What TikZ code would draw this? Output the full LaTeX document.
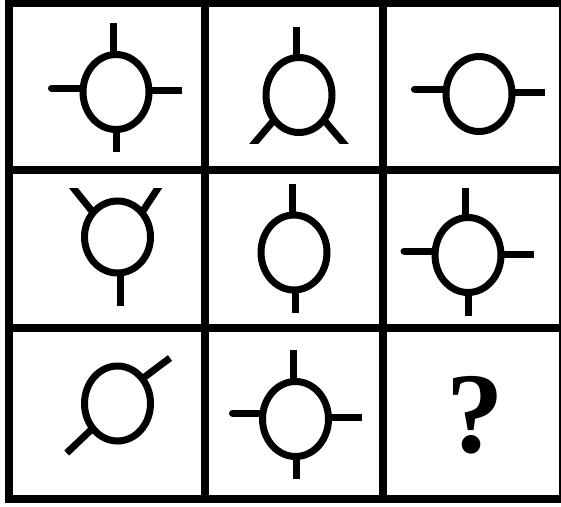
\documentclass[tikz,border=0pt]{standalone}
\usepackage{fontspec}
\newfontfamily\qfont{Liberation Serif}
\usetikzlibrary{shapes.geometric}
\begin{document}
\begin{tikzpicture}[x=1pt, y=-1pt]
    % Styles
    \tikzstyle{grid line}=[line width=7.5pt]
    \tikzstyle{ring}=[ellipse,draw,line width=7pt,inner sep=0pt,outer sep=0pt,minimum width=66pt,minimum height=75pt]
    \tikzstyle{stub}=[line width=7pt]

    \useasboundingbox (0,0) rectangle (561,506);

    % --- Grid ---
    \draw[grid line] (9,3) rectangle (563,499);
    \draw[grid line] (205,3) -- (205,499);
    \draw[grid line] (383,3) -- (383,499);
    \draw[grid line] (9,170) -- (563,170);
    \draw[grid line] (9,328) -- (563,328);

    % --- Row 1 ---
    \node[ring] (r1c1) at (116,92) {};
    \coordinate (r1c1_n) at (113.5,23);
    \coordinate (r1c1_s) at (116.5,152);
    \coordinate (r1c1_w) at (51.5,88);
    \coordinate (r1c1_e) at (182,90);
    \draw[stub] (r1c1_n) -- (r1c1_n |- r1c1.north);
    \draw[stub] (r1c1_s) -- (r1c1_s |- r1c1.south);
    \draw[stub, line cap=round] (r1c1_w) -- (r1c1_w -| r1c1.west);
    \draw[stub] (r1c1_e) -- (r1c1_e -| r1c1.east);

    \node[ring] (r1c2) at (299,95) {};
    \coordinate (r1c2_n) at (296.5,27);
    \coordinate (r1c2_sw) at (252,146);
    \coordinate (r1c2_se) at (346,146);
    \draw[stub] (r1c2_n) -- (r1c2_n |- r1c2.north);
    % legs cut flat at the bottom
    \begin{scope}
        \clip (205,0) rectangle (383,143.5);
        \draw[stub] (r1c2.-135) -- (r1c2_sw);
        \draw[stub] (r1c2.-45) -- (r1c2_se);
    \end{scope}

    \node[ring] (r1c3) at (479,94) {};
    \coordinate (r1c3_w) at (414.5,89);
    \coordinate (r1c3_e) at (545,92);
    \draw[stub, line cap=round] (r1c3_w) -- (r1c3_w -| r1c3.west);
    \draw[stub] (r1c3_e) -- (r1c3_e -| r1c3.east);

    % --- Row 2 ---
    \node[ring, minimum height=72pt] (r2c1) at (117.5,237) {};
    \coordinate (r2c1_s) at (120,306);
    \coordinate (r2c1_nw) at (71,185);
    \coordinate (r2c1_ne) at (160,185);
    \draw[stub] (r2c1_s) -- (r2c1_s |- r2c1.south);
    % legs cut flat at the top
    \begin{scope}
        \clip (9,188.5) rectangle (205,328);
        \draw[stub] (r2c1.135) -- (r2c1_nw);
        \draw[stub] (r2c1.45) -- (r2c1_ne);
    \end{scope}

    \node[ring] (r2c2) at (294,252.5) {};
    \coordinate (r2c2_n) at (292,184);
    \coordinate (r2c2_s) at (295.7,313);
    \draw[stub] (r2c2_n) -- (r2c2_n |- r2c2.north);
    \draw[stub] (r2c2_s) -- (r2c2_s |- r2c2.south);

    \node[ring] (r2c3) at (468,255) {};
    \coordinate (r2c3_n) at (465.6,188);
    \coordinate (r2c3_s) at (468.7,316);
    \coordinate (r2c3_w) at (404,251);
    \coordinate (r2c3_e) at (534,254);
    \draw[stub] (r2c3_n) -- (r2c3_n |- r2c3.north);
    \draw[stub] (r2c3_s) -- (r2c3_s |- r2c3.south);
    \draw[stub, line cap=round] (r2c3_w) -- (r2c3_w -| r2c3.west);
    \draw[stub] (r2c3_e) -- (r2c3_e -| r2c3.east);

    % --- Row 3 ---
    \node[ring] (r3c1) at (117.5,403.5) {};
    \coordinate (r3c1_ne) at (170,358);
    \coordinate (r3c1_sw) at (66.7,453);
    \draw[stub] (r3c1.45) -- (r3c1_ne);
    \draw[stub] (r3c1.-135) -- (r3c1_sw);

    \node[ring] (r3c2) at (295.5,419) {};
    \coordinate (r3c2_n) at (293.5,349.5);
    \coordinate (r3c2_s) at (296.4,478.5);
    \coordinate (r3c2_w) at (232.5,413);
    \coordinate (r3c2_e) at (362,417);
    \draw[stub] (r3c2_n) -- (r3c2_n |- r3c2.north);
    \draw[stub] (r3c2_s) -- (r3c2_s |- r3c2.south);
    \draw[stub, line cap=round] (r3c2_w) -- (r3c2_w -| r3c2.west);
    \draw[stub] (r3c2_e) -- (r3c2_e -| r3c2.east);

    % Missing cell
    \node[font=\qfont\bfseries\fontsize{115}{115}\selectfont, inner sep=0pt] (q) at (475.5,415) {?};

\end{tikzpicture}
\end{document}
